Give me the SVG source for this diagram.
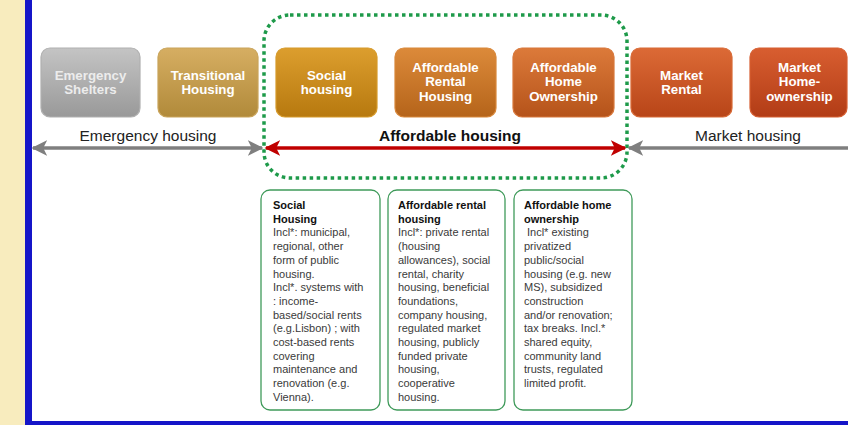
<svg xmlns="http://www.w3.org/2000/svg" width="848" height="425" viewBox="0 0 848 425">
  <style>
    .tile { stroke-width: 1.2; }
    .tt { font-family: "Liberation Sans", Arial, sans-serif; font-weight: bold; font-size: 13.3px; fill: #ffffff; text-anchor: middle; }
    .lbl { font-family: "Liberation Sans", Arial, sans-serif; font-size: 15.5px; fill: #222222; text-anchor: middle; }
    .card { fill: #ffffff; stroke: #3f9a5a; stroke-width: 1.3; }
    .ct { font-family: "Liberation Sans", Arial, sans-serif; font-size: 11px; fill: #3a3a3a; }
    .ch { font-weight: bold; fill: #111111; }
  </style>
  <defs>
    <linearGradient id="gGray" x1="0" y1="0" x2="0" y2="1">
      <stop offset="0" stop-color="#c4c4c4"/><stop offset="1" stop-color="#999999"/>
    </linearGradient>
    <linearGradient id="gGold" x1="0" y1="0" x2="0" y2="1">
      <stop offset="0" stop-color="#d6ae62"/><stop offset="1" stop-color="#b18a3a"/>
    </linearGradient>
    <linearGradient id="gSocial" x1="0" y1="0" x2="0" y2="1">
      <stop offset="0" stop-color="#dc9e2e"/><stop offset="1" stop-color="#b7790f"/>
    </linearGradient>
    <linearGradient id="gRent" x1="0" y1="0" x2="0" y2="1">
      <stop offset="0" stop-color="#dc8a3a"/><stop offset="1" stop-color="#b5641a"/>
    </linearGradient>
    <linearGradient id="gOwn" x1="0" y1="0" x2="0" y2="1">
      <stop offset="0" stop-color="#dc7a3a"/><stop offset="1" stop-color="#b5531a"/>
    </linearGradient>
    <linearGradient id="gMkt" x1="0" y1="0" x2="0" y2="1">
      <stop offset="0" stop-color="#dc6a36"/><stop offset="1" stop-color="#b84518"/>
    </linearGradient>
    <linearGradient id="gMkt2" x1="0" y1="0" x2="0" y2="1">
      <stop offset="0" stop-color="#d85e30"/><stop offset="1" stop-color="#b23c16"/>
    </linearGradient>
    <marker id="ahGray" viewBox="0 0 10 10" refX="9" refY="5" markerWidth="4.5" markerHeight="4.5" orient="auto-start-reverse" markerUnits="strokeWidth">
      <path d="M0,0 L10,5 L0,10 L2.5,5 Z" fill="#7f7f7f"/>
    </marker>
    <marker id="ahRed" viewBox="0 0 10 10" refX="9" refY="5" markerWidth="4.5" markerHeight="4.5" orient="auto-start-reverse" markerUnits="strokeWidth">
      <path d="M0,0 L10,5 L0,10 L2.5,5 Z" fill="#c00000"/>
    </marker>
  </defs>

  <!-- page frame -->
  <rect x="0" y="0" width="848" height="425" fill="#ffffff"/>
  <rect x="0" y="0" width="25" height="425" fill="#f8ecbe"/>
  <rect x="25" y="0" width="7" height="425" fill="#1515c8"/>
  <rect x="25" y="421" width="823" height="4" fill="#1515c8"/>

  <!-- affordable housing boundary -->
  <rect id="affordable-zone" x="264" y="15" width="363" height="163" rx="26" fill="none" stroke="#1e9a4a" stroke-width="3.5" stroke-dasharray="3.5 3.5"/>

  <!-- housing types -->
  <g id="emergency-shelters">
    <rect class="tile" x="41" y="48" width="99" height="69" rx="9" fill="url(#gGray)" stroke="#b0b0b0"/>
    <text class="tt" x="90.5" y="80" style="fill:#ececec">Emergency</text>
    <text class="tt" x="90.5" y="94" style="fill:#ececec">Shelters</text>
  </g>
  <g id="transitional-housing">
    <rect class="tile" x="158" y="48" width="100" height="69" rx="9" fill="url(#gGold)" stroke="#c9a45a"/>
    <text class="tt" x="208" y="80">Transitional</text>
    <text class="tt" x="208" y="94">Housing</text>
  </g>
  <g id="social-housing">
    <rect class="tile" x="276" y="48" width="101" height="69" rx="9" fill="url(#gSocial)" stroke="#d69a2a"/>
    <text class="tt" x="326.5" y="80">Social</text>
    <text class="tt" x="326.5" y="94">housing</text>
  </g>
  <g id="affordable-rental">
    <rect class="tile" x="395" y="48" width="101" height="69" rx="9" fill="url(#gRent)" stroke="#d8873a"/>
    <text class="tt" x="445.5" y="72">Affordable</text>
    <text class="tt" x="445.5" y="86">Rental</text>
    <text class="tt" x="445.5" y="101">Housing</text>
  </g>
  <g id="affordable-ownership">
    <rect class="tile" x="513" y="48" width="101" height="69" rx="9" fill="url(#gOwn)" stroke="#d8773a"/>
    <text class="tt" x="563.5" y="72">Affordable</text>
    <text class="tt" x="563.5" y="86">Home</text>
    <text class="tt" x="563.5" y="101">Ownership</text>
  </g>
  <g id="market-rental">
    <rect class="tile" x="631" y="48" width="101" height="69" rx="9" fill="url(#gMkt)" stroke="#d86a36"/>
    <text class="tt" x="681.5" y="80">Market</text>
    <text class="tt" x="681.5" y="94">Rental</text>
  </g>
  <g id="market-ownership">
    <rect class="tile" x="750" y="48" width="97" height="69" rx="9" fill="url(#gMkt2)" stroke="#d65e30"/>
    <text class="tt" x="799.5" y="72">Market</text>
    <text class="tt" x="799.5" y="86">Home-</text>
    <text class="tt" x="799.5" y="101">ownership</text>
  </g>

  <!-- range connectors -->
  <g id="connectors">
    <line x1="33" y1="148" x2="262" y2="148" stroke="#7f7f7f" stroke-width="3.5" marker-start="url(#ahGray)" marker-end="url(#ahGray)"/>
    <line x1="266" y1="148" x2="625" y2="148" stroke="#c00000" stroke-width="3.5" marker-start="url(#ahRed)" marker-end="url(#ahRed)"/>
    <line x1="629" y1="148" x2="852" y2="148" stroke="#7f7f7f" stroke-width="3.5" marker-start="url(#ahGray)"/>
  </g>

  <!-- range labels -->
  <text class="lbl" x="148" y="141">Emergency housing</text>
  <text class="lbl" x="450" y="141" style="font-weight:bold;fill:#111111">Affordable housing</text>
  <text class="lbl" x="748" y="141">Market housing</text>

  <!-- description cards -->
  <g id="card-social">
    <rect class="card" x="261" y="190" width="119" height="220" rx="9"/>
    <text class="ct" x="273" y="209">
      <tspan class="ch" x="273">Social</tspan>
      <tspan class="ch" x="273" dy="13.7">Housing</tspan>
      <tspan x="273" dy="13.7">Incl*: municipal,</tspan>
      <tspan x="273" dy="13.7">regional, other</tspan>
      <tspan x="273" dy="13.7">form of public</tspan>
      <tspan x="273" dy="13.7">housing.</tspan>
      <tspan x="273" dy="13.7">Incl*. systems with</tspan>
      <tspan x="273" dy="13.7">: income-</tspan>
      <tspan x="273" dy="13.7">based/social rents</tspan>
      <tspan x="273" dy="13.7">(e.g.Lisbon) ; with</tspan>
      <tspan x="273" dy="13.7">cost-based rents</tspan>
      <tspan x="273" dy="13.7">covering</tspan>
      <tspan x="273" dy="13.7">maintenance and</tspan>
      <tspan x="273" dy="13.7">renovation (e.g.</tspan>
      <tspan x="273" dy="13.7">Vienna).</tspan>
    </text>
  </g>
  <g id="card-rental">
    <rect class="card" x="388" y="190" width="117" height="220" rx="9"/>
    <text class="ct" x="398" y="209">
      <tspan class="ch" x="398">Affordable rental</tspan>
      <tspan class="ch" x="398" dy="13.7">housing</tspan>
      <tspan x="398" dy="13.7">Incl*: private rental</tspan>
      <tspan x="398" dy="13.7">(housing</tspan>
      <tspan x="398" dy="13.7">allowances), social</tspan>
      <tspan x="398" dy="13.7">rental, charity</tspan>
      <tspan x="398" dy="13.7">housing, beneficial</tspan>
      <tspan x="398" dy="13.7">foundations,</tspan>
      <tspan x="398" dy="13.7">company housing,</tspan>
      <tspan x="398" dy="13.7">regulated market</tspan>
      <tspan x="398" dy="13.7">housing, publicly</tspan>
      <tspan x="398" dy="13.7">funded private</tspan>
      <tspan x="398" dy="13.7">housing,</tspan>
      <tspan x="398" dy="13.7">cooperative</tspan>
      <tspan x="398" dy="13.7">housing.</tspan>
    </text>
  </g>
  <g id="card-ownership">
    <rect class="card" x="514" y="190" width="118" height="220" rx="9"/>
    <text class="ct" x="524" y="209">
      <tspan class="ch" x="524">Affordable home</tspan>
      <tspan class="ch" x="524" dy="13.7">ownership</tspan>
      <tspan x="527" dy="13.7">Incl* existing</tspan>
      <tspan x="524" dy="13.7">privatized</tspan>
      <tspan x="524" dy="13.7">public/social</tspan>
      <tspan x="524" dy="13.7">housing (e.g. new</tspan>
      <tspan x="524" dy="13.7">MS), subsidized</tspan>
      <tspan x="524" dy="13.7">construction</tspan>
      <tspan x="524" dy="13.7">and/or renovation;</tspan>
      <tspan x="524" dy="13.7">tax breaks. Incl.*</tspan>
      <tspan x="524" dy="13.7">shared equity,</tspan>
      <tspan x="524" dy="13.7">community land</tspan>
      <tspan x="524" dy="13.7">trusts, regulated</tspan>
      <tspan x="524" dy="13.7">limited profit.</tspan>
    </text>
  </g>
</svg>
